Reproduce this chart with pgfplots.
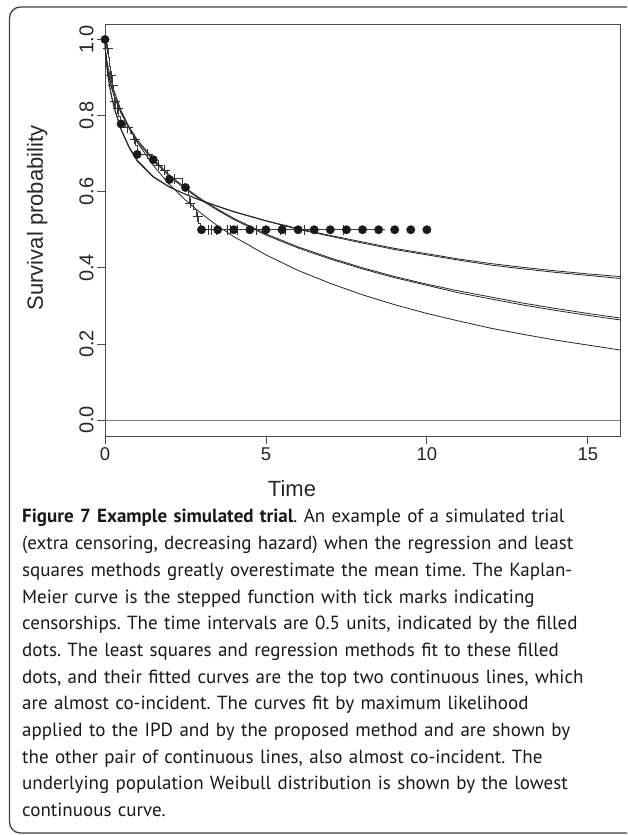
\documentclass[border=0pt]{standalone}
\usepackage{pgfplots}
\pgfplotsset{compat=1.18}
\usepackage{fontspec}
\setmainfont{Liberation Sans}
\newfontfamily\capfont{PT Sans}

% fitted survival curves
\pgfplotstableread{
t s
0 1.000
0.01 0.975
0.02 0.962
0.05 0.935
0.1 0.898
0.2 0.850
0.3 0.815
0.5 0.762
0.75 0.715
1.0 0.680
1.5 0.638
2.0 0.612
2.5 0.593
3.0 0.577
3.5 0.562
4.0 0.548
5.0 0.524
6.0 0.503
7.0 0.485
8.0 0.468
9.0 0.451
10.0 0.437
11.0 0.423
12.0 0.411
13.0 0.401
14.0 0.392
15.0 0.384
16.0 0.377
}\lsq
\pgfplotstableread{
t s
0 1.000
0.01 0.976
0.02 0.963
0.05 0.937
0.1 0.900
0.2 0.853
0.3 0.818
0.5 0.765
0.75 0.718
1.0 0.683
1.5 0.640
2.0 0.613
2.5 0.593
3.0 0.576
3.5 0.561
4.0 0.547
5.0 0.523
6.0 0.501
7.0 0.483
8.0 0.465
9.0 0.448
10.0 0.434
11.0 0.420
12.0 0.407
13.0 0.397
14.0 0.388
15.0 0.380
16.0 0.372
}\regr
\pgfplotstableread{
t s
0 1.000
0.01 0.974
0.02 0.962
0.05 0.940
0.1 0.914
0.2 0.878
0.3 0.851
0.5 0.810
0.75 0.770
1.0 0.737
1.5 0.686
2.0 0.644
2.5 0.610
3.0 0.580
3.5 0.554
4.0 0.530
5.0 0.489
6.0 0.455
7.0 0.426
8.0 0.400
9.0 0.377
10.0 0.357
11.0 0.339
12.0 0.323
13.0 0.307
14.0 0.293
15.0 0.280
16.0 0.268
}\mlipd
\pgfplotstableread{
t s
0 1.000
0.01 0.973
0.02 0.960
0.05 0.937
0.1 0.910
0.2 0.874
0.3 0.847
0.5 0.806
0.75 0.766
1.0 0.732
1.5 0.682
2.0 0.640
2.5 0.607
3.0 0.577
3.5 0.551
4.0 0.527
5.0 0.486
6.0 0.452
7.0 0.423
8.0 0.397
9.0 0.374
10.0 0.354
11.0 0.334
12.0 0.318
13.0 0.302
14.0 0.288
15.0 0.275
16.0 0.263
}\prop
\pgfplotstableread{
t s
0 1.000
0.01 0.981
0.02 0.971
0.05 0.950
0.1 0.925
0.25 0.873
0.5 0.813
0.75 0.768
1.0 0.730
1.5 0.669
2.0 0.619
2.5 0.578
3.0 0.542
3.5 0.510
4.0 0.482
5.0 0.434
6.0 0.393
7.0 0.359
8.0 0.329
9.0 0.303
10.0 0.280
11.0 0.260
12.0 0.241
13.0 0.225
14.0 0.210
15.0 0.197
16.0 0.184
}\truth
% Kaplan-Meier steps
\pgfplotstableread{
t s
0 1.000
0.04 0.988
0.06 0.976
0.12 0.952
0.15 0.928
0.18 0.905
0.22 0.880
0.25 0.858
0.28 0.838
0.34 0.818
0.42 0.798
0.47 0.780
0.65 0.768
0.80 0.752
0.88 0.738
0.96 0.722
1.00 0.698
1.45 0.684
1.60 0.670
1.75 0.657
1.95 0.634
2.40 0.612
2.58 0.590
2.62 0.570
2.75 0.552
2.85 0.534
2.92 0.517
2.97 0.500
8.70 0.500
}\km
\pgfplotstableread{
t s
0.09 0.976
0.20 0.905
0.24 0.880
0.30 0.838
0.40 0.818
0.71 0.768
0.92 0.738
1.33 0.698
1.65 0.670
1.85 0.657
2.15 0.634
2.65 0.570
2.88 0.534
3.20 0.500
3.30 0.500
3.45 0.500
3.80 0.500
3.90 0.500
4.10 0.500
4.70 0.500
5.45 0.500
5.60 0.500
6.20 0.500
7.40 0.500
}\cens
\pgfplotstableread{
t s
0.0 1.000
0.5 0.778
1.0 0.698
1.5 0.684
2.0 0.632
2.5 0.611
3.0 0.500
3.5 0.500
4.0 0.500
4.5 0.500
5.0 0.500
5.5 0.500
6.0 0.500
6.5 0.500
7.0 0.500
7.5 0.500
8.0 0.500
8.5 0.500
9.0 0.500
9.5 0.500
10.0 0.500
}\dots

\begin{document}
\frenchspacing
\begin{tikzpicture}
\useasboundingbox (0pt,0pt) rectangle (627pt,835pt);
\clip (0pt,0pt) rectangle (627pt,835pt);
\draw[line width=1.3pt, black!75, rounded corners=11pt] (9.5pt,2pt) rectangle (660pt,828pt);

\begin{axis}[
  at={(105pt,399pt)}, anchor=south west,
  scale only axis, width=515pt, height=412pt,
  xmin=0, xmax=16, ymin=-0.042, ymax=1.0407,
  clip=false,
  axis line style={black!70, line width=0.8pt},
  xtick={0,5,10,15}, xticklabels={0,5,10,15},
  ytick={0,0.2,0.4,0.6,0.8,1.0},
  yticklabels={0.0,0.2,0.4,0.6,0.8,1.0},
  xtick pos=left, ytick pos=left,
  tick align=outside, major tick length=8pt,
  tick style={black!70, line width=0.8pt},
  xticklabel style={font=\fontsize{18.5}{20}\selectfont, inner sep=3.5pt, text=black!85},
  yticklabel style={rotate=90, anchor=south, font=\fontsize{20}{22}\selectfont, text=black!85},
]
\addplot[black!50, line width=1pt] coordinates {(0,0) (16,0)};
\addplot[black!85, line width=0.8pt] table {\truth};
\addplot[black!85, line width=0.8pt] table {\mlipd};
\addplot[black!85, line width=0.8pt] table {\prop};
\addplot[black!85, line width=0.8pt] table {\lsq};
\addplot[black!85, line width=0.8pt] table {\regr};
\addplot[black!75, line width=1pt, const plot] table {\km};
\addplot[black!80, only marks, mark=+, mark size=5pt, mark options={line width=0.9pt}] table {\cens};
\addplot[black!90, only marks, mark=*, mark size=4.2pt] table {\dots};
\end{axis}

\node[font=\fontsize{22}{24}\selectfont, anchor=base, inner sep=0, text=black!85] at (292pt,338pt) {Time};
\node[font=\fontsize{22}{24}\selectfont, rotate=90, anchor=base, inner sep=0, text=black!85] at (43pt,617pt) {Survival probability};

\node[anchor=base west, inner sep=0, text width=600pt, align=left,
      font=\capfont\fontsize{19}{26.7}\selectfont, text=black!90] at (22pt,312pt) {%
\textbf{Figure 7 Example simulated trial}. An example of a simulated trial\\
(extra censoring, decreasing hazard) when the regression and least\\
squares methods greatly overestimate the mean time. The Kaplan-\\
Meier curve is the stepped function with tick marks indicating\\
censorships. The time intervals are 0.5 units, indicated by the filled\\
dots. The least squares and regression methods fit to these filled\\
dots, and their fitted curves are the top two continuous lines, which\\
are almost co-incident. The curves fit by maximum likelihood\\
applied to the IPD and by the proposed method and are shown by\\
the other pair of continuous lines, also almost co-incident. The\\
underlying population Weibull distribution is shown by the lowest\\
continuous curve.};
\end{tikzpicture}
\end{document}
